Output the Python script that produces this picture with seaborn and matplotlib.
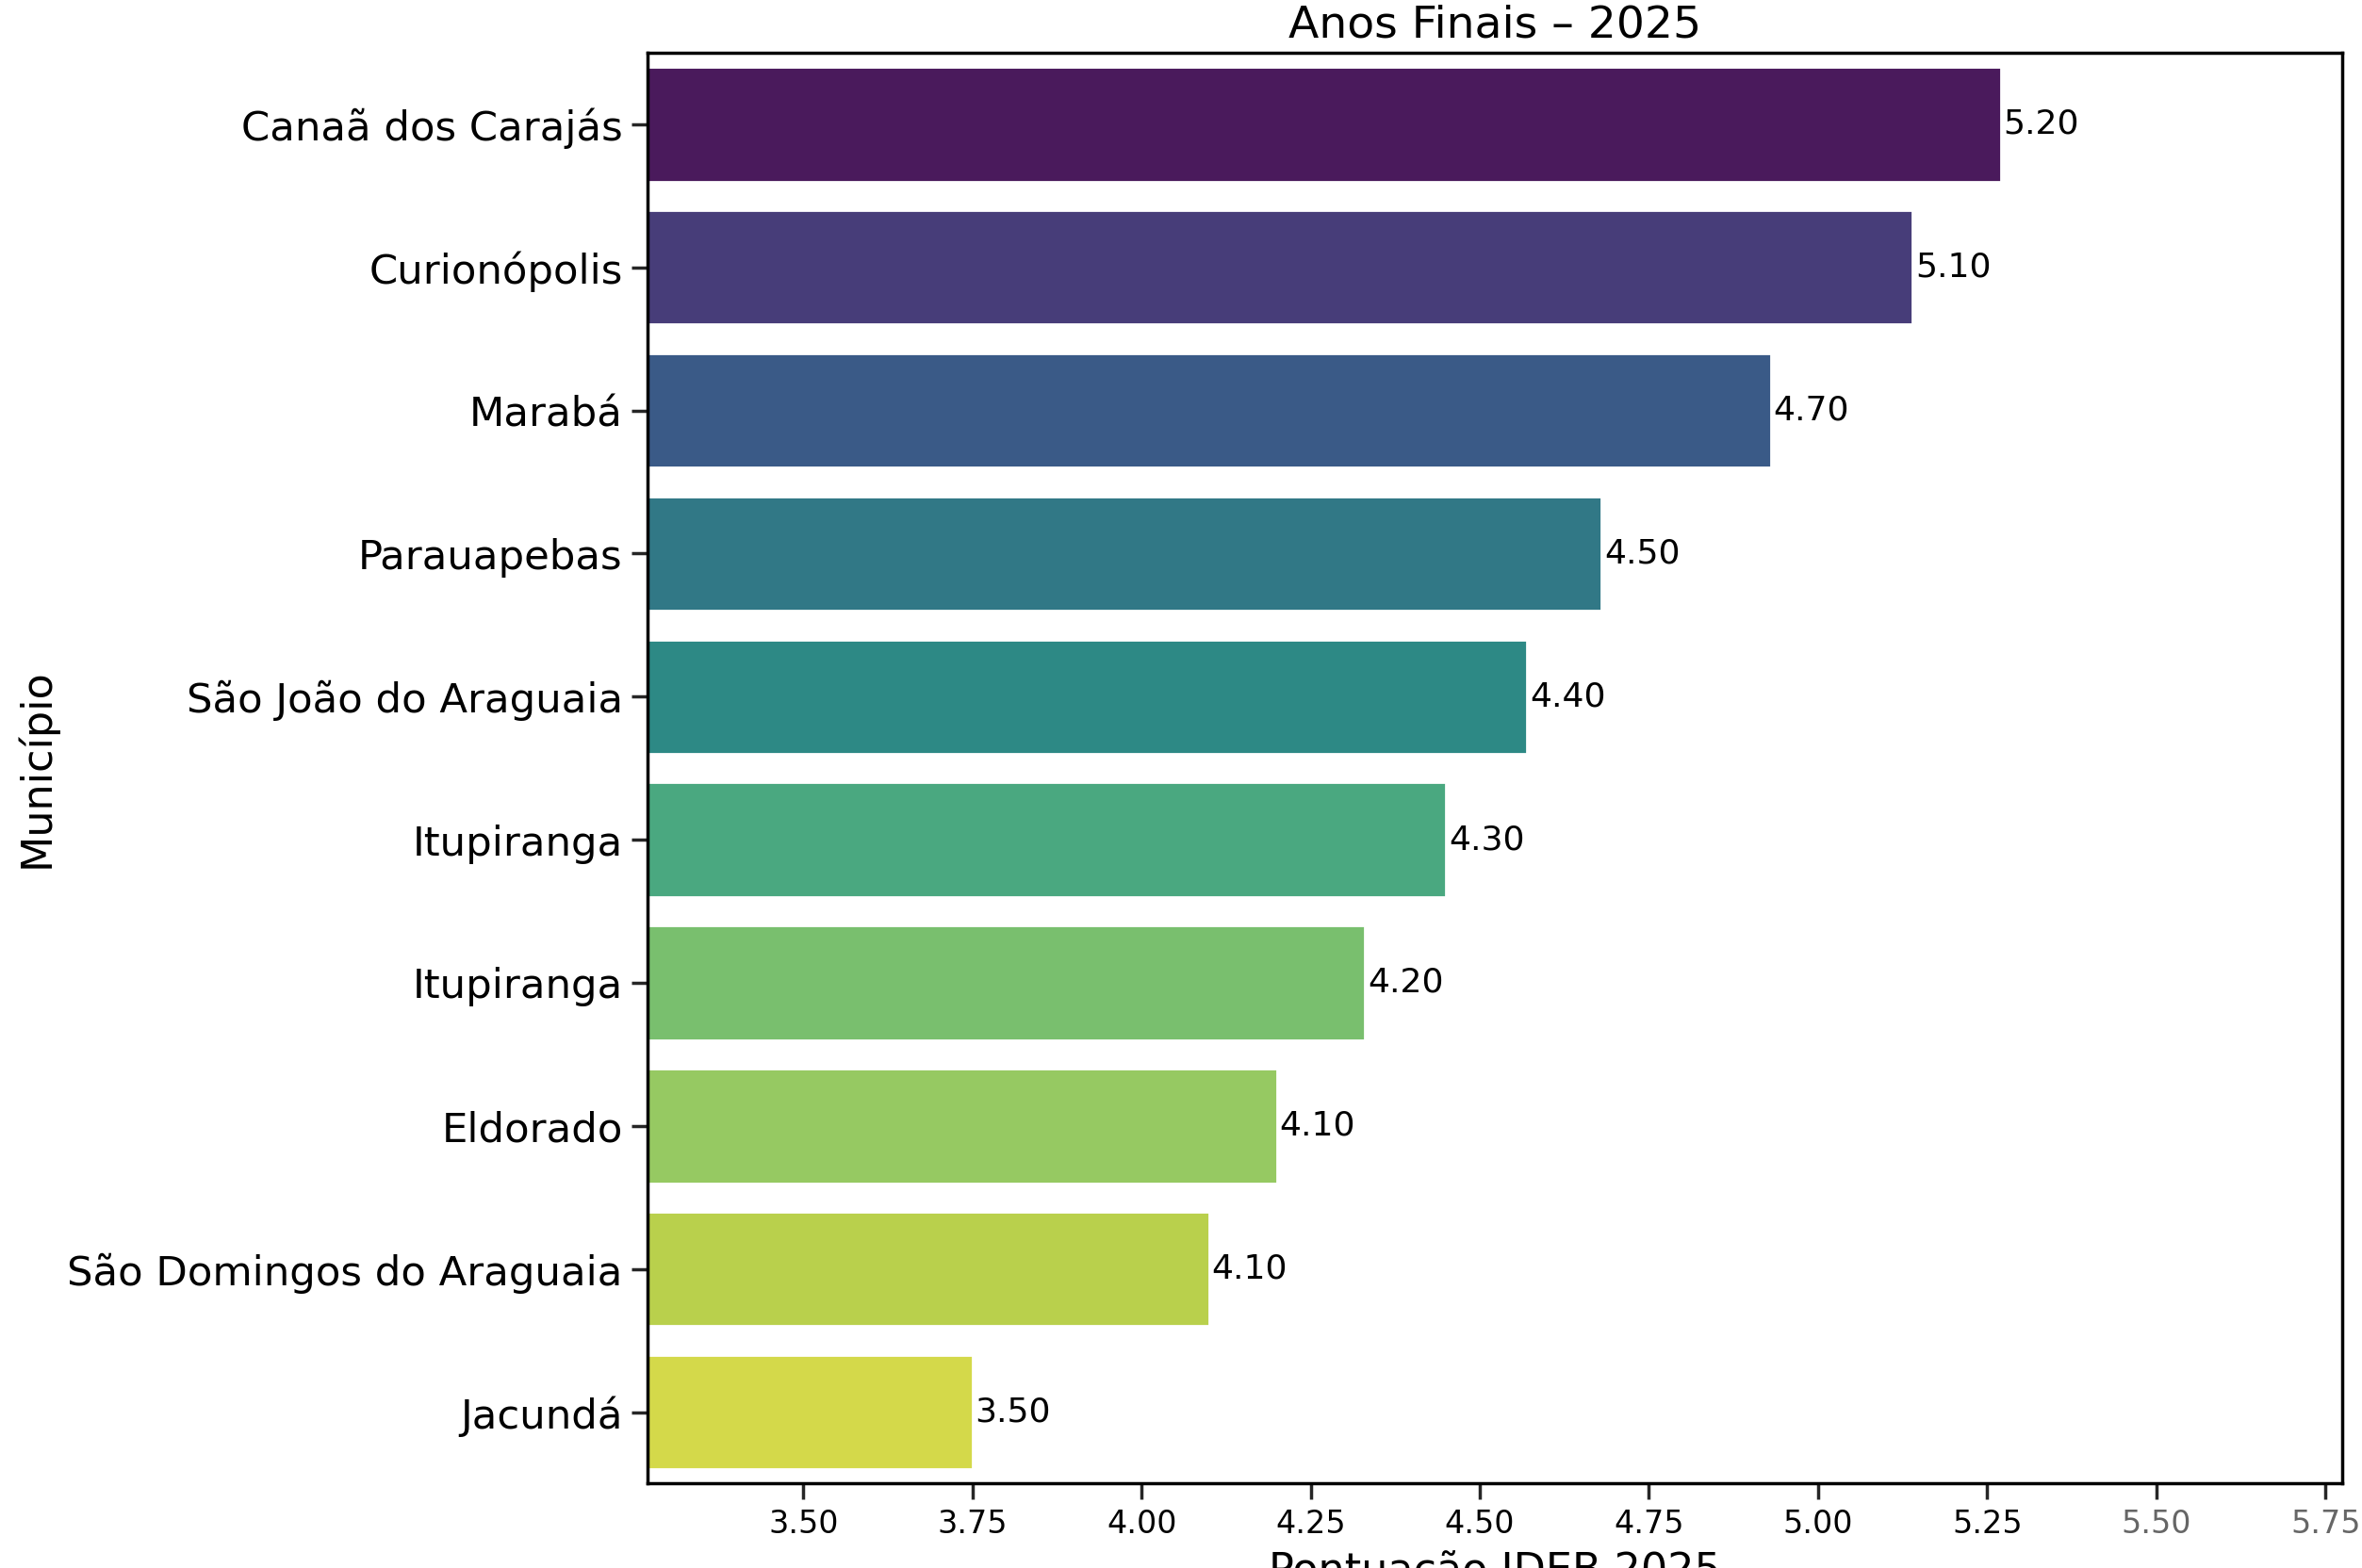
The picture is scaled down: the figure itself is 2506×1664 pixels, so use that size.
import pandas as pd
import matplotlib
matplotlib.use("Agg")
import matplotlib.pyplot as plt
import seaborn as sns

# dados
municipios = ["Canaã dos Carajás", "Curionópolis", "Marabá", "Parauapebas",
              "São João do Araguaia", "Itupiranga", "Itupiranga", "Eldorado",
              "São Domingos do Araguaia", "Jacundá"]
# comprimento das barras (como aparecem no eixo)
pontuacao = [5.27, 5.14, 4.93, 4.68, 4.57, 4.45, 4.33, 4.20, 4.10, 3.75]
# rotulos escritos ao lado das barras
rotulos = ["5.20", "5.10", "4.70", "4.50", "4.40", "4.30", "4.20", "4.10", "4.10", "3.50"]

cores = ["#4a1a5c", "#473d79", "#3a5a87", "#317886", "#2d8985",
         "#4aa880", "#79bf6e", "#96c962", "#b9d04c", "#d4d94a"]

df = pd.DataFrame({"pos": [str(i) for i in range(len(municipios))],
                   "IDEB": pontuacao})

sns.set_theme(style="ticks")
plt.rcParams["font.family"] = ["DejaVu Sans"]

fig, ax = plt.subplots(figsize=(12.53, 8.32), dpi=200)
fig.subplots_adjust(left=0.2742, right=0.9917, top=0.9664, bottom=0.0538)

sns.barplot(data=df, x="IDEB", y="pos", hue="pos", palette=cores,
            saturation=1, legend=False, orient="h", width=0.8, ax=ax)

for cont, lab in zip(ax.containers, rotulos):
    ax.bar_label(cont, labels=[lab], padding=1, fontsize=13, color="black")

ax.set_xlim(3.27, 5.775)
ax.set_xticks([3.50, 3.75, 4.00, 4.25, 4.50, 4.75, 5.00, 5.25, 5.50, 5.75])
ax.set_yticks(range(len(municipios)))
ax.set_yticklabels(municipios, fontsize=15.6, color="black")
ax.tick_params(axis="x", labelsize=12, labelcolor="black")
for t in ax.get_xticklabels()[-2:]:
    t.set_color("#666666")

for s in ax.spines.values():
    s.set_color("black")

ax.set_title("Anos Finais – 2025", fontsize=17, color="black")
ax.set_xlabel("Pontuação IDEB 2025", fontsize=16, color="black")
ax.set_ylabel("Município", fontsize=16, color="black")

fig.savefig("out.png", dpi=200)
